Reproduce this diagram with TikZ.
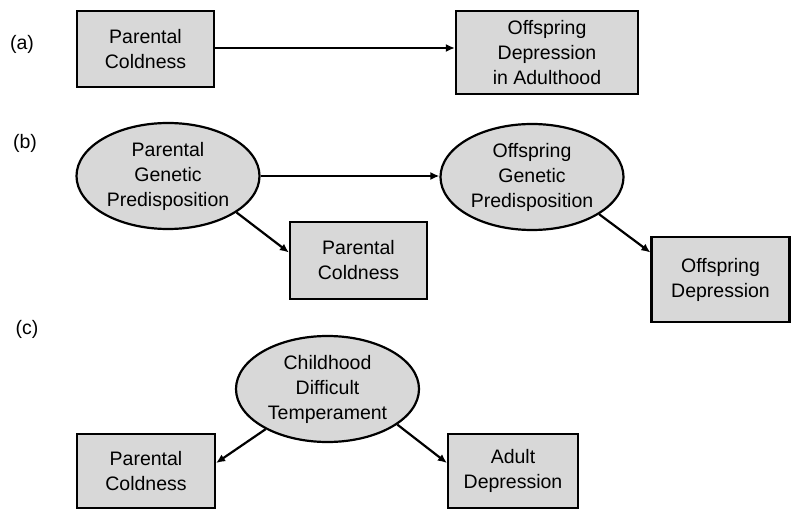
\documentclass[tikz,border=0pt]{standalone}
\usepackage{fontspec}
\setmainfont{Liberation Sans}
\usetikzlibrary{shapes.geometric,arrows.meta}
\definecolor{boxfill}{RGB}{216,216,216}
\begin{document}
\begin{tikzpicture}[x=1pt,y=-1pt,
  every node/.style={font=\fontsize{19.5}{25}\selectfont, align=center},
  rbox/.style={draw=black, line width=2.2pt, fill=boxfill, rectangle, inner sep=0pt},
  ebox/.style={draw=black, line width=2.2pt, fill=boxfill, ellipse, inner sep=0pt, minimum width=183pt, minimum height=106pt},
  conn/.style={line width=2.2pt, -{Latex[length=9pt,width=8pt]}},
  plabel/.style={inner sep=0pt}]
\useasboundingbox (0,0) rectangle (791,510);
% (a)
\node[plabel] (la) at (22,44) {(a)};
\node[rbox, minimum width=137pt, minimum height=76pt] (a1) at (145.5,49) {Parental\\Coldness};
\node[rbox, minimum width=182pt, minimum height=83pt] (a2) at (547,52.5) {Offspring\\Depression\\in Adulthood};
\draw[conn] ([yshift=1pt]a1.east) -- ([yshift=1pt]a1.east -| a2.west);
% (b)
\node[plabel] (lb) at (25,143) {(b)};
\node[ebox] (b1) at (168,176) {Parental\\Genetic\\Predisposition};
\node[ebox] (b2) at (532,177) {Offspring\\Genetic\\Predisposition};
\node[rbox, minimum width=137pt, minimum height=77pt] (b3) at (358.5,260.5) {Parental\\Coldness};
\node[rbox, minimum width=138pt, minimum height=85pt] (b4) at (720.5,279.5) {Offspring\\Depression};
\draw[conn] (b1.east) -- (b1.east -| b2.west);
\draw[conn] (b1.-28) -- ([yshift=8pt]b3.west);
\draw[conn] (b2.-29) -- ([yshift=27pt]b4.west);
% (c)
\node[plabel] (lc) at (27,329) {(c)};
\node[ebox] (c0) at (327.5,389) {Childhood\\Difficult\\Temperament};
\node[rbox, minimum width=138pt, minimum height=74pt] (c1) at (146,471) {Parental\\Coldness};
\node[rbox, minimum width=130pt, minimum height=74pt] (c2) at (513,471) {Adult\\Depression};
\draw[conn] (c0.-147) -- ([yshift=8pt]c1.east);
\draw[conn] (c0.-27) -- ([yshift=8pt]c2.west);
\end{tikzpicture}
\end{document}
